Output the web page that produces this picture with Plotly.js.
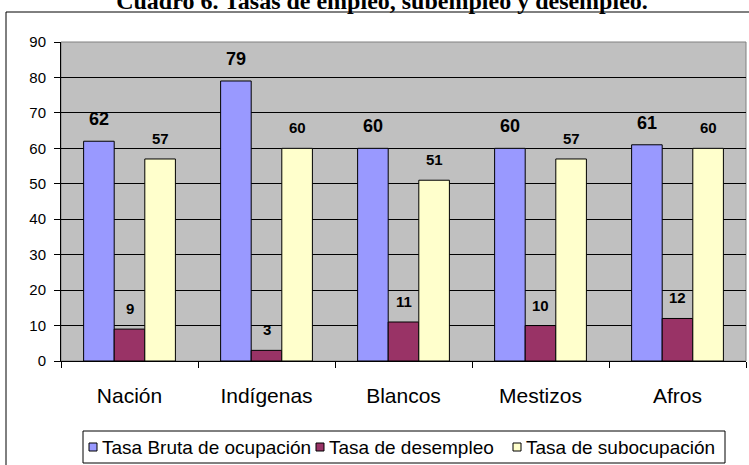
<!DOCTYPE html>
<html>
<head>
<meta charset="utf-8">
<script src="https://cdn.plot.ly/plotly-3.0.1.min.js"></script>
<style>html,body{margin:0;padding:0;background:#fff;}#chart{width:749px;height:465px;}</style>
</head>
<body>
<div id="chart"></div>
<script>
// ---- data ----
const categories = ['Nación', 'Indígenas', 'Blancos', 'Mestizos', 'Afros'];
const tasaBrutaOcupacion = [62, 79, 60, 60, 61];
const tasaDesempleo = [9, 3, 11, 10, 12];
const tasaSubocupacion = [57, 60, 51, 57, 60];
const seriesNames = ['Tasa Bruta de ocupación', 'Tasa de desempleo', 'Tasa de subocupación'];
const yTickValues = [0, 10, 20, 30, 40, 50, 60, 70, 80, 90];
const chartTitle = 'Cuadro 6. Tasas de empleo, subempleo y desempleo.';

// ---- styles ----
const seriesValues = [tasaBrutaOcupacion, tasaDesempleo, tasaSubocupacion];
const seriesColors = ['#9999FF', '#993366', '#FFFFCC'];
const labelSizes = [18, 15, 15];
const SANS = 'Liberation Sans, Arial, sans-serif';

const W = 749, H = 465;
const M = {l: 61, r: 3, t: 42, b: 104};
const PW = W - M.l - M.r, PH = H - M.t - M.b;
const px = x => (x - M.l) / PW;
const py = y => (H - M.b - y) / PH;

const bargap = 0.33;
const barPx = PW / categories.length * (1 - bargap) / seriesValues.length;

const traces = seriesValues.map((vals, i) => ({
  type: 'bar',
  name: seriesNames[i],
  x: categories,
  y: vals,
  marker: {color: seriesColors[i], line: {color: '#000', width: 1}},
  showlegend: false,
  hoverinfo: 'x+y+name'
}));

const annotations = [];
seriesValues.forEach((vals, i) => {
  vals.forEach((v, j) => {
    annotations.push({
      x: categories[j], y: v, xref: 'x', yref: 'y',
      text: '<b>' + v + '</b>', showarrow: false,
      xanchor: 'center', yanchor: 'bottom',
      xshift: (i - 1) * barPx, yshift: 10,
      font: {family: SANS, size: labelSizes[i], color: '#000'}
    });
  });
});

// custom legend (Excel style)
const shapes = [
  // outer chart frame
  {type: 'rect', xref: 'paper', yref: 'paper', x0: px(6), x1: px(762), y0: py(480), y1: py(12),
   line: {color: '#000', width: 1}, fillcolor: 'rgba(0,0,0,0)', layer: 'below'},
  // plot area border
  {type: 'rect', xref: 'paper', yref: 'paper', x0: 0, x1: 1, y0: 0, y1: 1,
   line: {color: '#808080', width: 1}, fillcolor: 'rgba(0,0,0,0)', layer: 'below'},
  // legend box
  {type: 'rect', xref: 'paper', yref: 'paper', x0: px(83), x1: px(725), y0: py(463), y1: py(431),
   line: {color: '#000', width: 1}, fillcolor: '#fff', layer: 'above'}
];
const legendSquareX = [89, 316, 513];
const legendTextX = [100, 327, 524];
seriesNames.forEach((n, i) => {
  shapes.push({type: 'rect', xref: 'paper', yref: 'paper',
    x0: px(legendSquareX[i]), x1: px(legendSquareX[i] + 8), y0: py(451), y1: py(443),
    line: {color: '#000', width: 1}, fillcolor: seriesColors[i], layer: 'above'});
  annotations.push({xref: 'paper', yref: 'paper', x: px(legendTextX[i]), y: py(447),
    xanchor: 'left', yanchor: 'middle', showarrow: false, text: n,
    font: {family: SANS, size: 19, color: '#000'}});
});

const layout = {
  width: W, height: H,
  margin: M,
  paper_bgcolor: '#fff',
  plot_bgcolor: '#C0C0C0',
  barmode: 'group', bargap: bargap, bargroupgap: 0,
  showlegend: false,
  title: {
    text: '<b>' + chartTitle + '</b>',
    font: {family: 'Liberation Serif, Times New Roman, serif', size: 24, color: '#000'},
    x: 0.51, xanchor: 'center', xref: 'container',
    y: 0.998, yanchor: 'middle', yref: 'container'
  },
  xaxis: {
    type: 'category', showline: true, linecolor: '#000', linewidth: 1,
    ticks: 'outside', tickson: 'boundaries', ticklen: 6, tickcolor: '#000',
    tickfont: {family: SANS, size: 21, color: '#000'},
    ticklabelstandoff: 16, showgrid: false, fixedrange: true
  },
  yaxis: {
    range: [0, 90], tickvals: yTickValues, ticktext: yTickValues.map(String),
    showline: true, linecolor: '#000', linewidth: 1,
    ticks: 'outside', ticklen: 6, tickcolor: '#000',
    tickfont: {family: SANS, size: 15, color: '#000'},
    ticklabelstandoff: 5,
    showgrid: true, gridcolor: '#000', gridwidth: 1, zeroline: false, fixedrange: true
  },
  annotations: annotations,
  shapes: shapes
};

Plotly.newPlot('chart', traces, layout, {displayModeBar: false, staticPlot: true});
</script>
</body>
</html>
